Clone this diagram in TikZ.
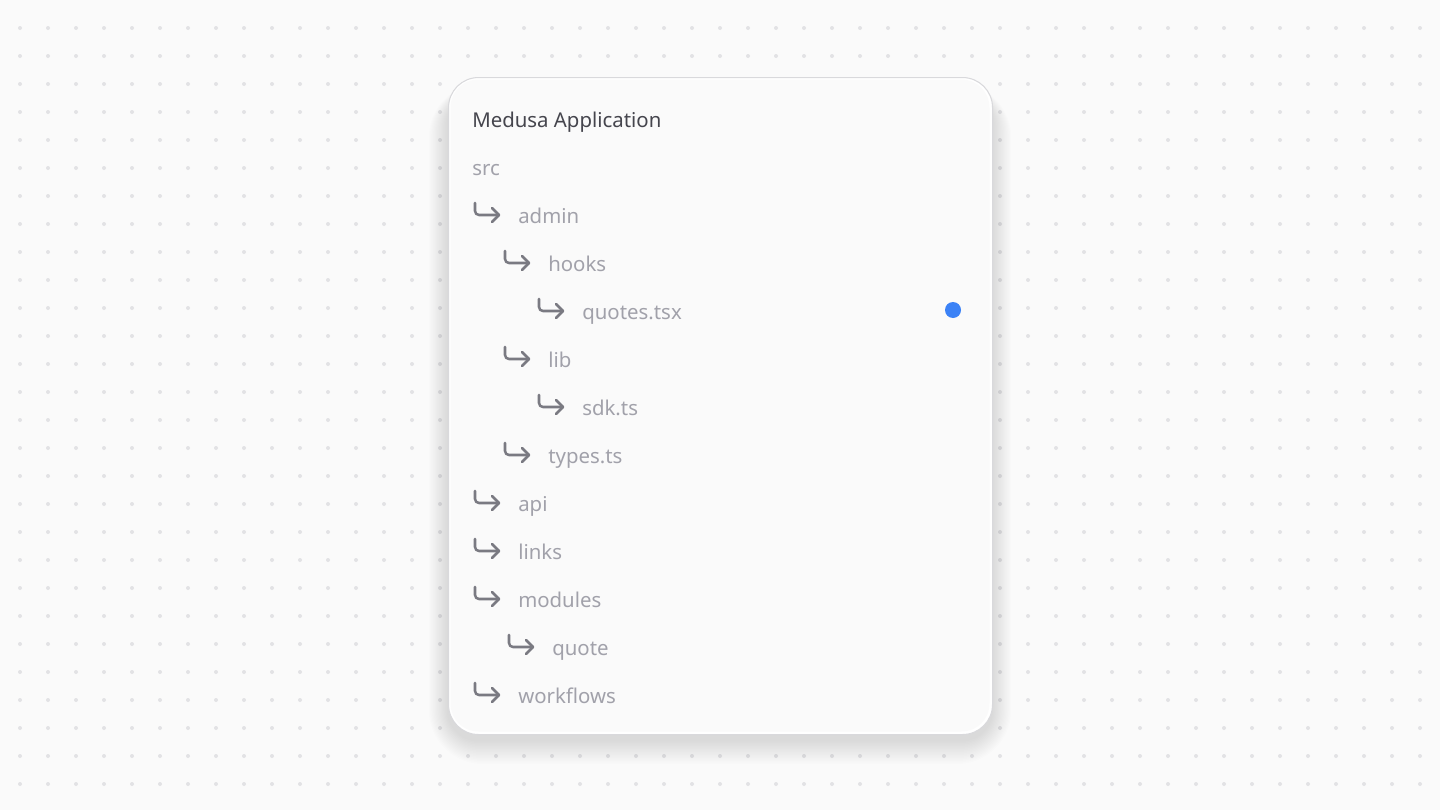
\documentclass[tikz,border=0pt]{standalone}
\usepackage{fontspec}
\setmainfont{Noto Sans}
\definecolor{bg}{HTML}{FAFAFA}
\definecolor{dotc}{HTML}{E2E2E5}
\definecolor{cardborder}{HTML}{D9D9DC}
\definecolor{titlec}{HTML}{45454D}
\definecolor{itemc}{HTML}{A1A1AA}
\definecolor{arrowc}{HTML}{7A7A82}
\definecolor{bluedot}{HTML}{3B82F6}
\tikzset{
  x=0.75pt, y=-0.75pt,
  item/.style={anchor=base west, inner sep=0pt, text=itemc, font=\fontsize{15.3}{17}\selectfont},
  titlestyle/.style={anchor=base west, inner sep=0pt, text=titlec, font=\fontsize{15.3}{17}\selectfont},
  hook/.pic={
    \draw[arrowc, line width=1.9pt, line cap=round, line join=round, rounded corners=3pt]
      (0,-12) -- (0,0) -- (24,0);
    \draw[arrowc, line width=1.9pt, line cap=round, line join=round]
      (17,-7) -- (24,0) -- (17,7);
  }
}
\begin{document}
\begin{tikzpicture}
\fill[bg] (0,0) rectangle (1440,810);
\useasboundingbox (0,0) rectangle (1440,810);
% dotted grid
\foreach \i in {0,...,50} {
  \foreach \j in {0,...,27} {
    \fill[dotc] ({20+28*\i},{28+28*\j}) circle (2);
  }
}
% shadow
\foreach \k in {1,...,16} {
  \fill[black, opacity=0.007, rounded corners={(30+\k*1.5)*0.75pt}]
    ({448-\k*1.2},{77+16-\k*0.6}) rectangle ({992+\k*1.2},{734+6+\k*1.5});
}
% card
\node[draw=cardborder, line width=0.8pt, fill=white, rounded corners=22.5pt,
      minimum width=408pt, minimum height=492.75pt, inner sep=0pt, anchor=north west]
  (card) at (448,77) {};
\fill[bg, rounded corners=21pt] (450.5,79.5) rectangle (989.5,731.5);
% title
\node[titlestyle] (title) at (472,127) {Medusa Application};
\node[item] (src) at (472,175) {src};
% items
\pic at (475,215) {hook};
\node[item] (admin) at (518,223) {admin};
\pic at (505,263) {hook};
\node[item] (hooks) at (548,271) {hooks};
\pic at (539,311) {hook};
\node[item] (quotes) at (582,319) {quotes.tsx};
\pic at (505,359) {hook};
\node[item] (lib) at (548,367) {lib};
\pic at (539,407) {hook};
\node[item] (sdk) at (582,415) {sdk.ts};
\pic at (505,455) {hook};
\node[item] (types) at (548,463) {types.ts};
\pic at (475,503) {hook};
\node[item] (api) at (518,511) {api};
\pic at (475,551) {hook};
\node[item] (links) at (518,559) {links};
\pic at (475,599) {hook};
\node[item] (modules) at (518,607) {modules};
\pic at (509,647) {hook};
\node[item] (quote) at (552,655) {quote};
\pic at (475,695) {hook};
\node[item] (workflows) at (518,703) {workflows};
% blue dot
\fill[bluedot] (953,310) circle (8);
\end{tikzpicture}
\end{document}
